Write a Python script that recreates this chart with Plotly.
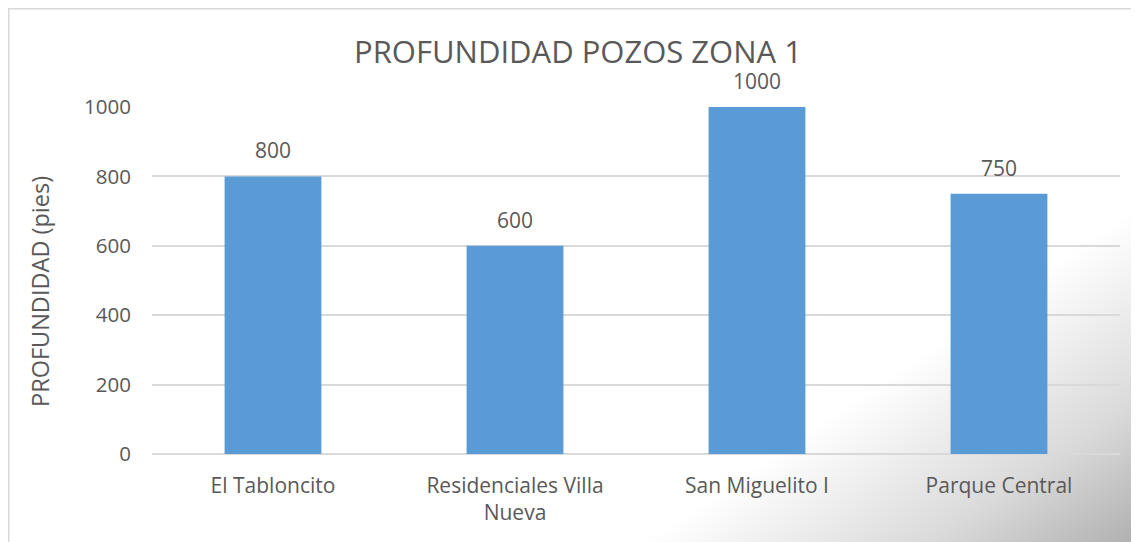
import base64
import plotly.graph_objects as go

categories = ["El Tabloncito", "Residenciales Villa<br>Nueva", "San Miguelito I", "Parque Central"]
depths = [800, 600, 1000, 750]
y_ticks = [0, 200, 400, 600, 800, 1000]

# page has an 8px body margin, so the figure is sized to the visible window minus that offset
W, H = 1131, 534
L, R, T, B = 144, 19, 99, 88
pw, ph = W - L - R, H - T - B

GRAY = "#595959"
FONT = "Open Sans"

fig = go.Figure()
fig.add_trace(go.Bar(
    x=categories, y=depths, marker=dict(color="#5B9BD5", line=dict(width=0)),
    width=0.4, hoverinfo="skip",
))

for c, v in zip(categories, depths):
    fig.add_annotation(x=c, y=v, text=str(v), showarrow=False, yanchor="bottom",
                       yshift=10, font=dict(family=FONT, size=21, color=GRAY))

fig.add_annotation(xref="paper", yref="paper", x=(32 - L) / pw, y=(H - B - 284) / ph,
                   text="PROFUNDIDAD (pies)", textangle=-90, showarrow=False,
                   xanchor="center", yanchor="middle",
                   font=dict(family=FONT, size=23.5, color=GRAY))

# page-curl shadow in the bottom right corner
svg = f'''<svg xmlns="http://www.w3.org/2000/svg" width="{W}" height="{H}" viewBox="0 0 {W} {H}">
<defs><linearGradient id="g" gradientUnits="userSpaceOnUse" x1="870" y1="375" x2="1050" y2="640">
<stop offset="0" stop-color="#ffffff"/><stop offset="0.5" stop-color="#dadada"/><stop offset="1" stop-color="#a0a0a0"/>
</linearGradient></defs>
<rect x="0" y="0" width="{W}" height="{H}" fill="url(#g)"/></svg>'''
src = "data:image/svg+xml;base64," + base64.b64encode(svg.encode()).decode()
fig.add_layout_image(source=src, xref="paper", yref="paper",
                     x=-L / pw, y=(ph + T) / ph, sizex=W / pw, sizey=H / ph,
                     xanchor="left", yanchor="top", sizing="stretch", layer="below")

# chart border (top and left visible)
fig.add_shape(type="rect", xref="paper", yref="paper",
              x0=(0.5 - L) / pw, x1=(W + 10 - L) / pw,
              y0=-(H + 10 - T - ph) / ph, y1=(ph + T - 0.5) / ph,
              line=dict(color="#d9d9d9", width=2), fillcolor="rgba(0,0,0,0)", layer="below")

fig.update_layout(
    width=W, height=H,
    margin=dict(l=L, r=R, t=T, b=B),
    paper_bgcolor="white", plot_bgcolor="rgba(0,0,0,0)",
    showlegend=False, bargap=0.6,
    title=dict(text="PROFUNDIDAD POZOS ZONA 1", x=570 / W, xref="container", xanchor="center",
               y=1 - 44 / H, yref="container", yanchor="middle",
               font=dict(family=FONT, size=31, color=GRAY)),
    font=dict(family=FONT, color=GRAY),
    xaxis=dict(showgrid=False, showline=False, zeroline=False, ticks="",
               tickfont=dict(family=FONT, size=21, color=GRAY), ticklabelstandoff=17),
    yaxis=dict(range=[0, 1000], tickvals=y_ticks, showgrid=True, gridcolor="#d9d9d9",
               gridwidth=1.5, zeroline=True, zerolinecolor="#d9d9d9", zerolinewidth=1.5,
               showline=False, ticks="", tickfont=dict(family=FONT, size=20.5, color=GRAY),
               ticklabelstandoff=20),
)

fig.write_html("out.html")
